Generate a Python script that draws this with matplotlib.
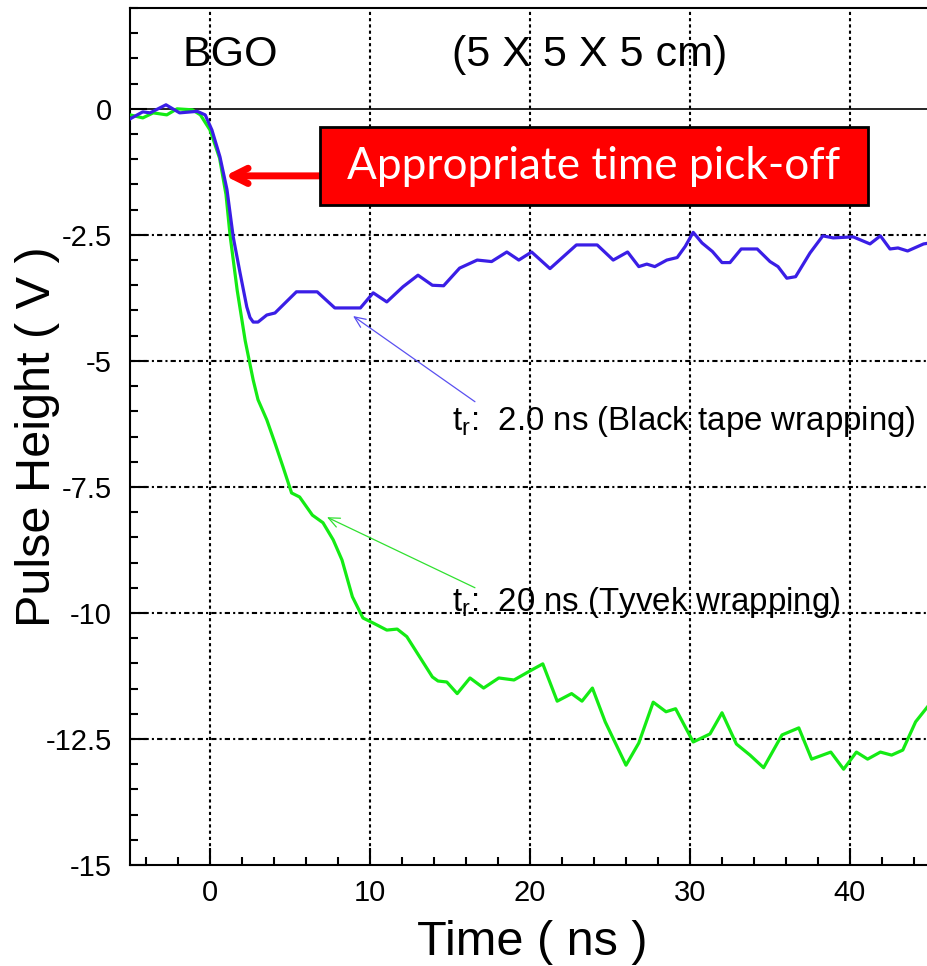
import matplotlib

matplotlib.use("Agg")
import matplotlib.pyplot as plt
from matplotlib.patches import Rectangle
from matplotlib.ticker import FuncFormatter, MultipleLocator

plt.rcParams["font.family"] = ["Liberation Sans", "DejaVu Sans"]
plt.rcParams["axes.unicode_minus"] = False

# Black tape wrapping (fast rise)
black_t = [-5.0, -4.2, -3.75, -2.75, -1.9, -0.8, -0.3, 0.12, 0.62, 1.06, 1.45, 1.875,
           2.3, 2.5, 2.7, 3.0, 3.55, 4.06, 5.4, 6.7, 7.8, 9.4, 10.2, 11.05, 12.06, 13.0,
           13.9, 14.6, 15.6, 16.7, 17.6, 18.55, 19.3, 20.1, 21.25, 22.9, 24.2, 25.2,
           26.1, 26.8, 27.3, 27.8, 28.55, 29.2, 29.7, 30.2, 30.75, 31.4, 32.0, 32.5,
           33.2, 34.2, 35.0, 35.5, 36.05, 36.6, 37.5, 38.3, 38.95, 40.2, 40.8, 41.25,
           41.9, 42.5, 43.0, 43.6, 44.6, 45.0]
black_v = [-0.2, -0.06, -0.08, 0.08, -0.08, -0.05, -0.12, -0.42, -0.95, -1.6, -2.54, -3.25,
           -3.93, -4.14, -4.23, -4.23, -4.09, -4.05, -3.63, -3.63, -3.95, -3.95, -3.65, -3.83, -3.53, -3.3,
           -3.5, -3.51, -3.16, -3.0, -3.03, -2.84, -3.0, -2.84, -3.17, -2.7, -2.7, -3.0,
           -2.84, -3.13, -3.08, -3.13, -3.0, -2.95, -2.73, -2.45, -2.66, -2.83, -3.05, -3.05,
           -2.78, -2.78, -3.03, -3.13, -3.36, -3.33, -2.86, -2.52, -2.56, -2.54, -2.62, -2.68,
           -2.52, -2.78, -2.76, -2.82, -2.68, -2.66]

# Tyvek wrapping (slow rise)
tyvek_t = [-5.0, -4.2, -3.55, -2.7, -2.06, -1.1, -0.6, 0.0, 0.6, 1.0, 1.25, 1.7, 2.2,
           2.7, 3.0, 3.55, 4.06, 4.56, 5.1, 5.6, 6.4, 7.06, 7.7, 8.25, 8.9, 9.56, 10.2,
           11.05, 11.7, 12.3, 13.1, 13.9, 14.25, 14.8, 15.45, 16.25, 17.1, 18.05, 19.0,
           20.0, 20.8, 21.7, 22.6, 23.25, 23.9, 24.7, 26.0, 26.8, 27.7, 28.5, 29.1, 30.2,
           31.25, 32.0, 32.9, 33.75, 34.6, 35.75, 36.8, 37.6, 38.8, 39.6, 40.4, 41.1, 41.9,
           42.6, 43.3, 44.1, 45.0]
tyvek_v = [-0.12, -0.18, -0.08, -0.12, 0.0, -0.02, -0.12, -0.42, -0.98, -1.7, -2.5, -3.6, -4.6,
           -5.38, -5.77, -6.17, -6.63, -7.1, -7.62, -7.7, -8.06, -8.21, -8.55, -8.95, -9.68, -10.1, -10.2,
           -10.34, -10.32, -10.47, -10.87, -11.27, -11.35, -11.37, -11.6, -11.29, -11.49, -11.29, -11.33,
           -11.15, -11.01, -11.75, -11.6, -11.75, -11.49, -12.16, -13.02, -12.58, -11.77, -11.96, -11.9, -12.56,
           -12.4, -11.98, -12.6, -12.82, -13.07, -12.42, -12.28, -12.9, -12.76, -13.1, -12.76, -12.9, -12.76,
           -12.82, -12.72, -12.16, -11.8]

BLUE = "#3a1ee6"
GREEN = "#14eb14"

fig = plt.figure(figsize=(9.28, 9.66), dpi=100)
ax = fig.add_axes([130 / 928, 1 - 865 / 966, 800 / 928, 857 / 966])

ax.plot(tyvek_t, tyvek_v, color=GREEN, lw=2.3, solid_joinstyle="round", zorder=3)
ax.plot(black_t, black_v, color=BLUE, lw=2.3, solid_joinstyle="round", zorder=4)

ax.set_xlim(-5, 45)
ax.set_ylim(-15, 2)

ax.xaxis.set_major_locator(MultipleLocator(10))
ax.xaxis.set_minor_locator(MultipleLocator(2))
ax.yaxis.set_major_locator(MultipleLocator(2.5))
ax.yaxis.set_minor_locator(MultipleLocator(0.5))
ax.yaxis.set_major_formatter(FuncFormatter(lambda v, _: f"{v:g}" if v <= 0 else ""))
ax.tick_params(which="both", direction="in", top=False, right=False, width=1.5, labelsize=21)
ax.tick_params(which="major", length=12)
ax.tick_params(which="minor", length=6)
ax.tick_params(axis="y", pad=13)
ax.tick_params(axis="x", pad=10)

for s in ("left", "bottom", "top"):
    ax.spines[s].set_linewidth(1.5)
ax.spines["right"].set_visible(False)

# dotted grid on the major ticks, solid zero line
for x in (0, 10, 20, 30, 40):
    ax.axvline(x, color="black", lw=1.5, ls=(0, (1.5, 1.5)), zorder=1)
for y in (-2.5, -5, -7.5, -10, -12.5):
    ax.axhline(y, color="black", lw=1.5, ls=(0, (2.5, 1.5, 1, 1.5)), zorder=1)
ax.axhline(0, color="black", lw=1.2, zorder=2)

ax.set_xlabel("Time ( ns )", fontsize=35)
ax.set_ylabel("Pulse Height ( V )", fontsize=35)
ax.xaxis.set_label_coords(0.5025, -0.064)
ax.yaxis.set_label_coords(-0.0875, 0.5)

ax.text(-1.7, 1.07, "BGO", fontsize=31, va="center", ha="left")
ax.text(15.1, 1.07, "(5 X 5 X 5 cm)", fontsize=31, va="center", ha="left")

# red call-out box pointing at the pick-off point on the leading edge
ax.add_patch(Rectangle((6.875, -1.905), 34.25, 1.548, fc="#ff0000", ec="black",
                       lw=2, zorder=6))
ax.text(24.0, -1.15, "Appropriate time pick-off", fontsize=31.8, color="white",
        family=["Lato", "DejaVu Sans"], ha="center", va="center", zorder=7)
ax.annotate("", xy=(0.94, -1.33), xytext=(6.875, -1.33), zorder=5,
            arrowprops=dict(arrowstyle="->,head_length=1.1,head_width=0.55",
                            color="#ff0000", lw=5, shrinkA=0, shrinkB=0,
                            capstyle="round"))

ax.annotate("", xy=(8.94, -4.11), xytext=(16.56, -5.81),
            arrowprops=dict(arrowstyle="->,head_length=0.8,head_width=0.35",
                            color="#5a50f0", lw=0.9, shrinkA=0, shrinkB=0))
ax.text(15.1, -6.21, r"t$_\mathregular{r}$:  2.0 ns (Black tape wrapping)",
        fontsize=23.8, va="center", ha="left")

ax.annotate("", xy=(7.31, -8.10), xytext=(16.56, -9.5),
            arrowprops=dict(arrowstyle="->,head_length=0.8,head_width=0.35",
                            color="#30e030", lw=0.9, shrinkA=0, shrinkB=0))
ax.text(15.1, -9.8, r"t$_\mathregular{r}$:  20 ns (Tyvek wrapping)",
        fontsize=23.8, va="center", ha="left")

fig.savefig("out.png", dpi=100)
